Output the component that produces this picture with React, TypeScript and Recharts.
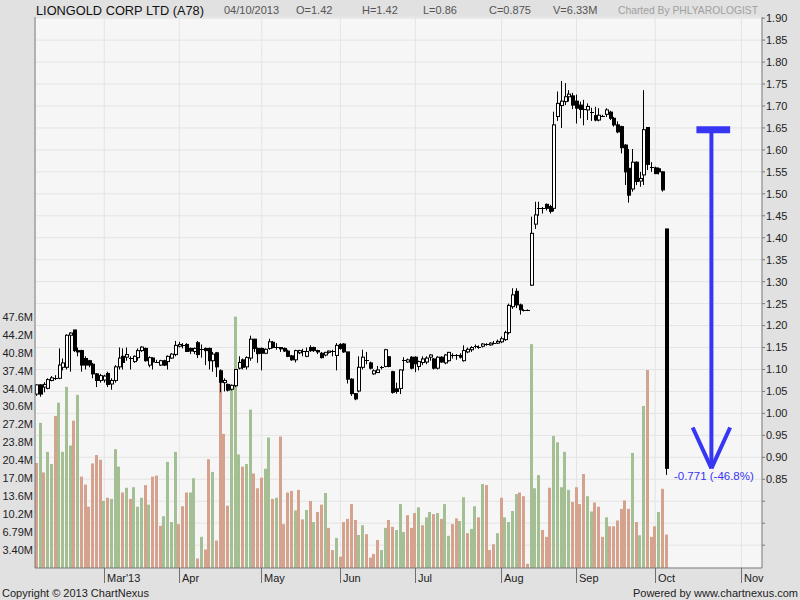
import React from "react";
import { ComposedChart, Bar, XAxis, YAxis, CartesianGrid, ReferenceLine, ReferenceDot } from "recharts";

const FONT = '"Liberation Sans", Arial, Helvetica, sans-serif';

// Daily OHLC (SGD), trading days from 1 Feb 2013 to 4 Oct 2013
const OPEN = [
  1.044, 1.065, 1.060, 1.057, 1.075, 1.079, 1.080, 1.105, 1.105, 1.178,
  1.190, 1.143, 1.143, 1.125, 1.120, 1.112, 1.090, 1.075, 1.076, 1.091,
  1.067, 1.075, 1.106, 1.130, 1.128, 1.126, 1.118, 1.127, 1.143, 1.148,
  1.110, 1.126, 1.118, 1.110, 1.120, 1.118, 1.126, 1.134, 1.153, 1.156,
  1.157, 1.148, 1.141, 1.161, 1.146, 1.148, 1.148, 1.120, 1.138, 1.097,
  1.070, 1.066, 1.055, 1.063, 1.103, 1.122, 1.106, 1.126, 1.169, 1.148,
  1.148, 1.137, 1.148, 1.162, 1.150, 1.150, 1.148, 1.142, 1.131, 1.122,
  1.138, 1.140, 1.130, 1.150, 1.150, 1.143, 1.137, 1.133, 1.139, 1.141,
  1.132, 1.157, 1.158, 1.140, 1.078, 1.045, 1.051, 1.105, 1.120, 1.115,
  1.090, 1.093, 1.104, 1.107, 1.129, 1.095, 1.056, 1.057, 1.120, 1.117,
  1.128, 1.128, 1.107, 1.116, 1.117, 1.128, 1.124, 1.103, 1.128, 1.115,
  1.120, 1.131, 1.131, 1.132, 1.120, 1.140, 1.145, 1.152, 1.150, 1.153,
  1.156, 1.156, 1.160, 1.160, 1.163, 1.168, 1.184, 1.243, 1.278, 1.247,
  1.236, 1.235, 1.292, 1.431, 1.466, 1.466, 1.476, 1.471, 1.467, 1.676,
  1.701, 1.710, 1.721, 1.723, 1.711, 1.702, 1.694, 1.691, 1.686, 1.678,
  1.668, 1.678, 1.681, 1.686, 1.672, 1.657, 1.653, 1.611, 1.558, 1.511,
  1.572, 1.529, 1.543, 1.651, 1.562, 1.559, 1.557, 1.550, 1.42,
];
const HIGH = [
  1.066, 1.066, 1.071, 1.080, 1.085, 1.087, 1.148, 1.125, 1.180, 1.185,
  1.190, 1.150, 1.145, 1.130, 1.122, 1.115, 1.092, 1.090, 1.088, 1.095,
  1.080, 1.110, 1.150, 1.148, 1.150, 1.130, 1.132, 1.148, 1.153, 1.150,
  1.130, 1.128, 1.122, 1.122, 1.122, 1.132, 1.137, 1.165, 1.163, 1.160,
  1.160, 1.150, 1.150, 1.165, 1.157, 1.150, 1.150, 1.140, 1.140, 1.100,
  1.080, 1.068, 1.066, 1.100, 1.130, 1.125, 1.130, 1.177, 1.170, 1.150,
  1.150, 1.148, 1.170, 1.165, 1.160, 1.150, 1.150, 1.145, 1.133, 1.145,
  1.145, 1.147, 1.150, 1.155, 1.152, 1.145, 1.140, 1.140, 1.143, 1.145,
  1.160, 1.160, 1.160, 1.140, 1.080, 1.046, 1.130, 1.145, 1.140, 1.118,
  1.100, 1.108, 1.108, 1.147, 1.130, 1.097, 1.070, 1.100, 1.128, 1.125,
  1.130, 1.130, 1.120, 1.130, 1.130, 1.135, 1.126, 1.130, 1.130, 1.135,
  1.140, 1.137, 1.135, 1.137, 1.155, 1.150, 1.153, 1.157, 1.155, 1.160,
  1.160, 1.162, 1.165, 1.168, 1.175, 1.188, 1.250, 1.285, 1.285, 1.250,
  1.237, 1.237, 1.448, 1.482, 1.482, 1.470, 1.478, 1.475, 1.687, 1.733,
  1.757, 1.752, 1.736, 1.730, 1.726, 1.710, 1.714, 1.706, 1.696, 1.698,
  1.695, 1.680, 1.695, 1.689, 1.675, 1.665, 1.655, 1.613, 1.602, 1.602,
  1.574, 1.550, 1.736, 1.651, 1.572, 1.562, 1.560, 1.552, 1.42,
];
const LOW = [
  1.040, 1.038, 1.048, 1.055, 1.073, 1.076, 1.078, 1.098, 1.100, 1.095,
  1.140, 1.130, 1.095, 1.100, 1.105, 1.080, 1.060, 1.070, 1.070, 1.060,
  1.054, 1.070, 1.100, 1.100, 1.120, 1.100, 1.115, 1.120, 1.140, 1.118,
  1.105, 1.100, 1.115, 1.108, 1.108, 1.100, 1.124, 1.130, 1.150, 1.148,
  1.140, 1.135, 1.135, 1.126, 1.127, 1.110, 1.100, 1.095, 1.083, 1.048,
  1.050, 1.050, 1.052, 1.060, 1.100, 1.100, 1.100, 1.120, 1.140, 1.115,
  1.098, 1.135, 1.145, 1.148, 1.145, 1.140, 1.140, 1.128, 1.120, 1.116,
  1.135, 1.130, 1.128, 1.140, 1.140, 1.135, 1.125, 1.130, 1.136, 1.130,
  1.098, 1.145, 1.138, 1.068, 1.040, 1.030, 1.048, 1.100, 1.112, 1.100,
  1.088, 1.092, 1.100, 1.105, 1.105, 1.045, 1.045, 1.044, 1.097, 1.115,
  1.100, 1.094, 1.098, 1.110, 1.112, 1.120, 1.100, 1.100, 1.115, 1.112,
  1.118, 1.125, 1.122, 1.125, 1.118, 1.137, 1.140, 1.148, 1.147, 1.150,
  1.154, 1.154, 1.157, 1.158, 1.160, 1.165, 1.180, 1.238, 1.240, 1.225,
  1.232, 1.233, 1.290, 1.420, 1.450, 1.455, 1.462, 1.455, 1.460, 1.666,
  1.650, 1.702, 1.710, 1.693, 1.660, 1.672, 1.656, 1.668, 1.666, 1.665,
  1.665, 1.675, 1.675, 1.668, 1.653, 1.638, 1.592, 1.520, 1.480, 1.505,
  1.520, 1.516, 1.520, 1.554, 1.550, 1.545, 1.544, 1.505, 0.86,
];
const CLOSE = [
  1.065, 1.044, 1.066, 1.077, 1.081, 1.081, 1.110, 1.115, 1.178, 1.183,
  1.143, 1.140, 1.110, 1.110, 1.110, 1.090, 1.075, 1.086, 1.085, 1.066,
  1.075, 1.106, 1.126, 1.116, 1.134, 1.124, 1.130, 1.143, 1.151, 1.120,
  1.127, 1.117, 1.117, 1.120, 1.110, 1.130, 1.135, 1.155, 1.157, 1.155,
  1.141, 1.142, 1.148, 1.134, 1.147, 1.143, 1.120, 1.135, 1.106, 1.071,
  1.075, 1.053, 1.064, 1.100, 1.116, 1.105, 1.127, 1.169, 1.148, 1.136,
  1.137, 1.146, 1.163, 1.150, 1.151, 1.147, 1.142, 1.130, 1.122, 1.143,
  1.143, 1.142, 1.141, 1.143, 1.143, 1.140, 1.127, 1.139, 1.142, 1.141,
  1.155, 1.148, 1.140, 1.078, 1.045, 1.033, 1.105, 1.128, 1.121, 1.103,
  1.097, 1.099, 1.105, 1.145, 1.107, 1.048, 1.050, 1.099, 1.122, 1.122,
  1.103, 1.113, 1.118, 1.124, 1.126, 1.133, 1.103, 1.128, 1.117, 1.133,
  1.139, 1.132, 1.133, 1.128, 1.143, 1.146, 1.150, 1.153, 1.151, 1.158,
  1.157, 1.160, 1.160, 1.164, 1.170, 1.184, 1.246, 1.270, 1.247, 1.236,
  1.235, 1.235, 1.410, 1.452, 1.467, 1.467, 1.467, 1.460, 1.657, 1.706,
  1.711, 1.721, 1.727, 1.702, 1.695, 1.692, 1.694, 1.699, 1.686, 1.668,
  1.679, 1.678, 1.691, 1.672, 1.657, 1.641, 1.605, 1.550, 1.497, 1.572,
  1.528, 1.535, 1.646, 1.567, 1.561, 1.546, 1.550, 1.509, 0.875,
];
// Daily volume, millions of shares
const VOLUME = [
  19.9, 27.5, 18.1, 22.0, 19.7, 28.8, 31.3, 22.0, 34.3, 23.2,
  27.9, 32.8, 17.3, 15.8, 11.6, 19.8, 21.4, 20.5, 12.7, 13.3,
  13.1, 22.5, 19.2, 14.3, 15.2, 13.1, 15.3, 11.6, 13.3, 15.7,
  12.0, 17.3, 17.5, 8.0, 9.8, 20.1, 8.7, 22.0, 8.3, 11.7,
  14.3, 14.3, 17.0, 1.8, 5.9, 3.5, 20.6, 18.2, 5.2, 37.6,
  25.4, 11.8, 34.0, 47.6, 21.5, 19.2, 19.7, 30.0, 17.9, 15.1,
  17.1, 18.8, 24.7, 13.1, 13.3, 24.9, 8.3, 14.3, 14.6, 10.9,
  14.8, 9.2, 11.0, 12.7, 8.7, 10.6, 12.0, 14.2, 7.6, 3.4,
  5.7, 2.15, 8.7, 9.3, 12.1, 9.1, 6.25, 8.1, 6.4, 1.96,
  2.66, 5.3, 3.4, 7.6, 9.1, 7.8, 7.2, 12.1, 6.8, 10.0,
  7.6, 10.4, 11.5, 8.1, 9.6, 10.6, 10.2, 10.4, 9.3, 12.1,
  6.1, 8.3, 9.4, 8.9, 13.4, 6.6, 7.4, 11.7, 9.6, 15.9,
  15.7, 3.4, 4.5, 6.6, 13.3, 9.6, 8.7, 10.8, 14.0, 14.3,
  13.6, 0.8, 42.4, 15.1, 17.6, 7.2, 5.9, 15.2, 25.0, 23.8,
  15.3, 22.0, 14.8, 12.5, 15.3, 12.1, 17.8, 13.6, 10.7, 12.4,
  11.6, 5.9, 9.6, 7.9, 7.9, 9.0, 11.2, 12.8, 11.2, 21.8,
  8.7, 6.2, 30.7, 37.5, 5.9, 7.9, 10.6, 15.0, 6.33,
];
// Volume bar colour: u = up day (green), d = down day (red)
const VOL_DIR = [
  "d","u","d","u","u","d","u","u","u","u",
  "d","u","d","d","d","d","d","d","u","d",
  "u","u","u","d","u","d","u","u","u","d",
  "u","d","d","d","u","u","u","u","d","d",
  "d","u","u","d","u","d","d","u","d","d",
  "d","d","u","u","u","d","u","u","d","d",
  "d","u","u","d","u","d","d","d","d","u",
  "d","d","u","d","u","d","d","u","d","d",
  "u","d","d","d","d","d","u","u","d","d",
  "d","d","u","u","d","d","u","u","u","d",
  "d","d","u","d","u","u","d","u","d","u",
  "u","d","d","u","u","d","u","u","d","u",
  "d","d","d","u","d","u","u","u","u","d",
  "d","d","u","u","u","d","d","d","u","u",
  "u","u","u","d","d","d","d","u","u","d",
  "d","d","u","d","d","d","d","d","d","u",
  "d","u","u","d","d","d","u","d","d",
];

const SLOT_COUNT = 194; // trading-day slots shown on the time axis (incl. empty future days)
const MONTH_TICKS = [18, 38, 60, 81, 101, 124, 144, 165, 188];
const MONTH_LABELS = ["Mar'13", "Apr", "May", "Jun", "Jul", "Aug", "Sep", "Oct", "Nov"];

const PRICE_TICKS = [
  0.7, 0.75, 0.8, 0.85, 0.9, 0.95, 1.0, 1.05, 1.1, 1.15, 1.2, 1.25, 1.3,
  1.35, 1.4, 1.45, 1.5, 1.55, 1.6, 1.65, 1.7, 1.75, 1.8, 1.85, 1.9,
];
const VOL_TICKS = [3.397, 6.794, 10.191, 13.588, 16.985, 20.382, 23.779, 27.176, 30.573, 33.97, 37.367, 40.764, 44.161, 47.558];
const VOL_LABELS = ["3.40M", "6.79M", "10.2M", "13.6M", "17.0M", "20.4M", "23.8M", "27.2M", "30.6M", "34.0M", "37.4M", "40.8M", "44.2M", "47.6M"];

const PRICE_DOMAIN = [0.648, 1.9026];
const VOL_DOMAIN = [0, 104.36];

const LAST = CLOSE.length - 1;
const PEAK_IDX = 162;
const DROP = CLOSE[LAST] - CLOSE[PEAK_IDX];
const DROP_PCT = (DROP / CLOSE[PEAK_IDX]) * 100;

const DATA = Array.from({ length: SLOT_COUNT }, (_, i) =>
  i < CLOSE.length
    ? { i, o: OPEN[i], h: HIGH[i], l: LOW[i], c: CLOSE[i], v: VOLUME[i], dir: VOL_DIR[i] }
    : { i }
);

const GREEN = "#A3BF93";
const RED = "#D4A28D";
const BLUE = "#3636F4";

const Candle = (props: any) => {
  const { x, y, width, height, payload } = props;
  if (!payload || payload.h == null) return null;
  const { o, h, l, c } = payload;
  const top = Math.min(y, y + height);
  const bottom = Math.max(y, y + height);
  const span = h - l;
  const py = (p: number) => (span > 0 ? top + ((h - p) / span) * (bottom - top) : top);
  const cxi = Math.floor(x + width / 2);
  const wx = cxi + 0.5;
  const bTop = py(Math.max(o, c));
  const bBot = py(Math.min(o, c));
  const up = c >= o;
  const bh = bBot - bTop;
  return (
    <g>
      <line x1={wx} x2={wx} y1={py(h)} y2={Math.max(py(l), py(h) + 1)} stroke="#000" strokeWidth={1} />
      {bh < 1.2 ? (
        <line x1={cxi - 1} x2={cxi + 3} y1={Math.round(bTop) + 0.5} y2={Math.round(bTop) + 0.5} stroke="#000" strokeWidth={1} />
      ) : (
        <rect x={cxi - 0.5} y={bTop} width={3} height={bh} fill={up ? "#FFFFFF" : "#000000"} stroke="#000" strokeWidth={1} />
      )}
    </g>
  );
};

const VolumeBar = (props: any) => {
  const { x, y, width, height, payload } = props;
  if (!payload || payload.v == null || !height) return null;
  const bx = Math.floor(x + width / 2) - 1;
  return <rect x={bx} y={y} width={3} height={height} fill={payload.dir === "u" ? GREEN : RED} />;
};

const MonthTick = (props: any) => {
  const { x, y, payload } = props;
  const idx = MONTH_TICKS.indexOf(Number(payload.value));
  const lx = Math.floor(x) + 0.5;
  return (
    <g>
      <line x1={lx} x2={lx} y1={y} y2={y + 15} stroke="#707070" strokeWidth={1} />
      <text x={lx + 2.5} y={y + 14} fontSize={11} fill="#222" fontFamily={FONT}>
        {idx >= 0 ? MONTH_LABELS[idx] : ""}
      </text>
    </g>
  );
};

const DropLabel = (props: any) => (
  <text x={props.cx} y={props.cy} fontSize={11.5} fill={BLUE} fontFamily={FONT} dominantBaseline="central">
    {`${DROP.toFixed(3)} (${DROP_PCT.toFixed(1)}%)`}
  </text>
);

export default function App() {
  return (
    <div style={{ position: "absolute", left: 0, top: 0, width: 800, height: 600, background: "#E1E1E1", fontFamily: FONT }}>
      <ComposedChart width={800} height={600} data={DATA} margin={{ top: 17, right: 0, bottom: 0, left: 0 }}>
        <CartesianGrid xAxisId={0} yAxisId="price" stroke="#E4E4E4" fill="#F6F6F6" />
        <XAxis
          dataKey="i"
          type="category"
          ticks={MONTH_TICKS}
          interval={0}
          tick={<MonthTick />}
          tickLine={false}
          tickSize={0}
          tickMargin={0}
          height={32}
          axisLine={{ stroke: "#7A7A7A" }}
        />
        <XAxis xAxisId="c" dataKey="i" type="category" hide />
        <YAxis
          yAxisId="vol"
          orientation="left"
          type="number"
          domain={VOL_DOMAIN}
          ticks={VOL_TICKS}
          interval={0}
          width={35}
          tickLine={false}
          tickSize={0}
          tickMargin={2}
          axisLine={{ stroke: "#7A7A7A" }}
          tick={{ fontSize: 11, fill: "#222", fontFamily: FONT }}
          tickFormatter={(v: number) => {
            const k = VOL_TICKS.findIndex((t) => Math.abs(t - v) < 0.01);
            return k >= 0 ? VOL_LABELS[k] : "";
          }}
          allowDataOverflow
        />
        <YAxis
          yAxisId="price"
          orientation="right"
          type="number"
          domain={PRICE_DOMAIN}
          ticks={PRICE_TICKS}
          interval={0}
          width={38}
          tickSize={3}
          tickMargin={1}
          axisLine={{ stroke: "#7A7A7A" }}
          tickLine={{ stroke: "#7A7A7A" }}
          tick={{ fontSize: 11, fill: "#222", fontFamily: FONT }}
          tickFormatter={(v: number) => (v > 0.84 ? v.toFixed(2) : "")}
          allowDataOverflow
        />
        <Bar dataKey="v" yAxisId="vol" barSize={3} shape={<VolumeBar />} isAnimationActive={false} />
        <Bar
          xAxisId="c"
          yAxisId="price"
          dataKey={(d: any) => (d.h == null ? null : [d.l, d.h])}
          barSize={4}
          shape={<Candle />}
          isAnimationActive={false}
        />
        <ReferenceLine
          yAxisId="price"
          segment={[{ x: 176, y: CLOSE[PEAK_IDX] }, { x: 185, y: CLOSE[PEAK_IDX] }]}
          stroke={BLUE}
          strokeWidth={7}
        />
        <ReferenceLine
          yAxisId="price"
          segment={[{ x: 180, y: CLOSE[PEAK_IDX] }, { x: 180, y: CLOSE[LAST] }]}
          stroke={BLUE}
          strokeWidth={4}
        />
        <ReferenceLine
          yAxisId="price"
          segment={[{ x: 175, y: 0.968 }, { x: 180, y: CLOSE[LAST] }]}
          stroke={BLUE}
          strokeWidth={4}
        />
        <ReferenceLine
          yAxisId="price"
          segment={[{ x: 185, y: 0.968 }, { x: 180, y: CLOSE[LAST] }]}
          stroke={BLUE}
          strokeWidth={4}
        />
        <ReferenceDot yAxisId="price" x={170} y={0.857} r={0} shape={<DropLabel />} />
      </ComposedChart>
      <svg width={800} height={600} style={{ position: "absolute", left: 0, top: 0, pointerEvents: "none" }} fontFamily={FONT}>
        <text x={36} y={15} fontSize={13} fill="#111" textLength={168} lengthAdjust="spacingAndGlyphs">LIONGOLD CORP LTD (A78)</text>
        <text x={224} y={14} fontSize={11} fill="#555">04/10/2013</text>
        <text x={296} y={14} fontSize={11} fill="#555">{`O=${OPEN[LAST]}`}</text>
        <text x={362} y={14} fontSize={11} fill="#555">{`H=${HIGH[LAST]}`}</text>
        <text x={423} y={14} fontSize={11} fill="#555">{`L=${LOW[LAST]}`}</text>
        <text x={489} y={14} fontSize={11} fill="#555">{`C=${CLOSE[LAST]}`}</text>
        <text x={553} y={14} fontSize={11} fill="#555">{`V=${VOLUME[LAST]}M`}</text>
        <text x={618} y={14} fontSize={11} fill="#A0A0A0" textLength={140} lengthAdjust="spacingAndGlyphs">Charted By PHLYAROLOGIST</text>
        <text x={2} y={597} fontSize={11} fill="#222">Copyright © 2013 ChartNexus</text>
        <text x={798} y={597} fontSize={11} fill="#222" textAnchor="end">Powered by www.chartnexus.com</text>
      </svg>
    </div>
  );
}
